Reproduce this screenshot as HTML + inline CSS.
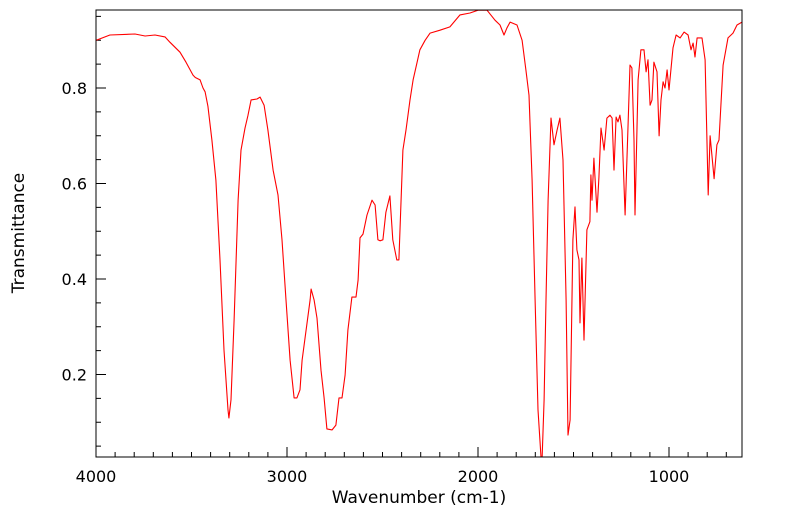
<!DOCTYPE html>
<html><head><meta charset="utf-8"><style>
html,body{margin:0;padding:0;background:#fff;}
svg{display:block;font-family:"DejaVu Sans","Liberation Sans",sans-serif;}
</style></head><body>
<svg id="chart" width="799" height="516" viewBox="0 0 799 516">
<defs><clipPath id="clip"><rect x="96" y="10" width="646" height="447"/></clipPath></defs>
<rect x="0" y="0" width="799" height="516" fill="#fff"/>
<g id="ticks"></g>
<g id="series" clip-path="url(#clip)"></g>
<rect x="96" y="10" width="646" height="447" fill="none" stroke="#000" stroke-width="1"/>
<text x="419" y="503" font-size="17" text-anchor="middle">Wavenumber (cm-1)</text>
<text x="24" y="233" font-size="17" text-anchor="middle" transform="rotate(-90 24 233)">Transmittance</text>
</svg>
<script>
const wavenumbers=[4000,3927,3796,3743,3691,3639,3613,3560,3529,3492,3480,3455,3440,3429,3414,3393,3372,3351,3330,3309,3304,3293,3277,3256,3241,3220,3204,3188,3157,3141,3120,3100,3073,3047,3026,3005,2984,2963,2948,2932,2921,2900,2879,2874,2858,2843,2822,2806,2791,2764,2744,2728,2712,2696,2681,2660,2639,2628,2618,2602,2581,2555,2539,2524,2513,2498,2482,2461,2446,2425,2414,2393,2377,2356,2340,2319,2304,2277,2251,2199,2147,2094,2042,2000,1953,1911,1885,1864,1848,1832,1796,1769,1749,1733,1717,1701,1686,1670,1665,1654,1644,1633,1618,1602,1586,1571,1555,1539,1529,1518,1503,1492,1482,1471,1466,1456,1445,1430,1414,1409,1403,1393,1377,1367,1356,1340,1325,1309,1298,1288,1277,1267,1257,1246,1230,1215,1204,1194,1183,1178,1162,1147,1131,1120,1110,1099,1089,1079,1063,1052,1042,1031,1021,1010,1000,979,963,942,921,900,885,874,864,853,827,811,795,785,764,749,738,717,691,665,644,618];
const transmittance=[0.900,0.911,0.913,0.909,0.911,0.907,0.896,0.875,0.854,0.827,0.822,0.817,0.800,0.792,0.762,0.691,0.607,0.440,0.251,0.126,0.109,0.147,0.314,0.565,0.670,0.716,0.743,0.775,0.777,0.781,0.764,0.712,0.628,0.576,0.482,0.356,0.230,0.151,0.151,0.168,0.230,0.293,0.356,0.379,0.356,0.318,0.209,0.151,0.086,0.084,0.094,0.151,0.151,0.199,0.293,0.362,0.362,0.398,0.486,0.494,0.534,0.565,0.555,0.482,0.480,0.482,0.540,0.574,0.482,0.440,0.440,0.670,0.712,0.775,0.817,0.854,0.880,0.900,0.915,0.921,0.928,0.953,0.957,0.963,0.963,0.942,0.932,0.911,0.926,0.938,0.932,0.900,0.838,0.785,0.607,0.356,0.126,0.027,0.018,0.147,0.356,0.565,0.737,0.681,0.712,0.737,0.649,0.356,0.073,0.105,0.482,0.551,0.461,0.440,0.308,0.444,0.272,0.503,0.520,0.618,0.565,0.653,0.540,0.612,0.716,0.670,0.737,0.743,0.737,0.628,0.739,0.729,0.743,0.712,0.534,0.712,0.848,0.842,0.691,0.534,0.817,0.880,0.880,0.834,0.859,0.764,0.775,0.854,0.834,0.700,0.775,0.813,0.800,0.838,0.796,0.884,0.911,0.905,0.917,0.911,0.880,0.894,0.865,0.905,0.905,0.859,0.576,0.700,0.610,0.681,0.691,0.848,0.905,0.915,0.932,0.938];
const xTickLabels=[4000,3000,2000,1000];
const yTickLabels=["0.2","0.4","0.6","0.8"];

const X0=96,X1=742,Y0=10,Y1=457;
function xScale(w){return 96+(4000-w)*0.191;}
function yScale(t){return 88-(t-0.8)*477.5;}
const NS='http://www.w3.org/2000/svg';
const svg=document.getElementById('chart');
const tg=document.getElementById('ticks');
function mk(tag,attrs,parent){const e=document.createElementNS(NS,tag);for(const k in attrs)e.setAttribute(k,attrs[k]);parent.appendChild(e);return e;}

for(let w=4000;w>=620;w-=100){
  const x=xScale(w);const major=(w%1000===0);
  const t=mk('line',{x1:x,x2:x,y1:Y1,y2:Y1-(major?10:5),stroke:'#000','stroke-width':1},tg);
  
  
}
for(let i=0;i<=19;i++){
  const v=0.05*i;const y=yScale(v);if(y<Y0||y>Y1)continue;
  const major=(i%4===0);
  const t=mk('line',{x1:X0,x2:X0+(major?10:5),y1:y,y2:y,stroke:'#000','stroke-width':1},tg);
  
  
}
xTickLabels.forEach(w=>{
  const t=mk('text',{x:xScale(w),y:482,'font-size':16,'text-anchor':'middle'},svg);
  t.textContent=String(w);
  
  
});
yTickLabels.forEach(s=>{
  const t=mk('text',{x:87,y:yScale(parseFloat(s))+6,'font-size':16,'text-anchor':'end'},svg);
  t.textContent=s;
  
  
});
const pts=wavenumbers.map((w,i)=>xScale(w).toFixed(1)+','+yScale(transmittance[i]).toFixed(1)).join(' ');
const line=mk('polyline',{points:pts,fill:'none',stroke:'#ff0000','stroke-width':1.1,'stroke-linejoin':'round'},document.getElementById('series'));


</script>
</body></html>
